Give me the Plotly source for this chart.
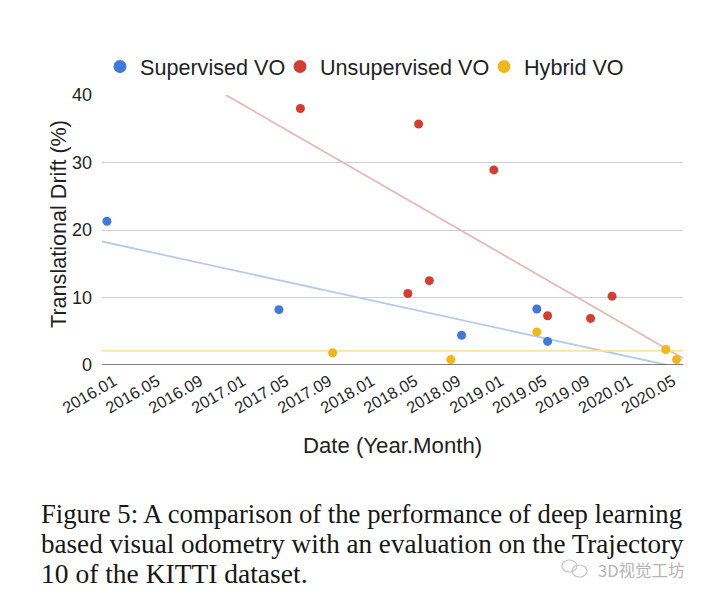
import plotly.graph_objects as go

# x values are months after 2016.01
tick_months = [0, 4, 8, 12, 16, 20, 24, 28, 32, 36, 40, 44, 48, 52]
tick_labels = ["2016.01", "2016.05", "2016.09", "2017.01", "2017.05", "2017.09", "2018.01",
               "2018.05", "2018.09", "2019.01", "2019.05", "2019.09", "2020.01", "2020.05"]

sup_x = [0, 16, 33, 40, 41]
sup_y = [21.3, 8.2, 4.4, 8.3, 3.5]
uns_x = [18, 29, 36, 28, 30, 41, 45, 47]
uns_y = [38.0, 35.7, 28.9, 10.6, 12.5, 7.3, 6.9, 10.2]
hyb_x = [21, 32, 40, 52, 53]
hyb_y = [1.8, 0.8, 4.9, 2.3, 0.8]

sup_trend_x = [-0.46, 52.1]
sup_trend_y = [18.3, 0.0]
uns_trend_x = [11.07, 53.6]
uns_trend_y = [40.0, 1.0]
hyb_trend_x = [-0.46, 53.6]
hyb_trend_y = [2.1, 2.1]

BLUE, RED, YEL = "#4278d8", "#d13f33", "#f0b71c"
INK = "#1f1f1f"

caption = ["Figure 5: A comparison of the performance of deep learning",
           "based visual odometry with an evaluation on the Trajectory",
           "10 of the KITTI dataset."]
caption_sizes = [26.7, 27.1, 27.5]
watermark = "3D视觉工坊"

fig = go.Figure()
for x, y, c in [(sup_trend_x, sup_trend_y, "#b8cbe8"),
                (uns_trend_x, uns_trend_y, "#e8b8b3"),
                (hyb_trend_x, hyb_trend_y, "#f8e3a6")]:
    fig.add_trace(go.Scatter(x=x, y=y, mode="lines", line=dict(color=c, width=1.8),
                             showlegend=False, hoverinfo="skip"))
for x, y, c, n, lg in [(sup_x, sup_y, BLUE, "Supervised VO", "legend"),
                       (uns_x, uns_y, RED, "Unsupervised VO", "legend2"),
                       (hyb_x, hyb_y, YEL, "Hybrid VO", "legend3")]:
    fig.add_trace(go.Scatter(x=x, y=y, mode="markers", marker=dict(color=c, size=9),
                             showlegend=False, cliponaxis=False, name=n))
    fig.add_trace(go.Scatter(x=[None], y=[None], mode="markers", marker=dict(color=c, size=13),
                             name=n, legend=lg))

def legend_at(left_px):
    return dict(x=(left_px - 102) / 581, xanchor="left", y=1.026, yanchor="bottom",
                orientation="h", font=dict(size=21.6), bgcolor="rgba(0,0,0,0)")

fig.update_layout(
    width=703, height=597, margin=dict(l=102, r=20, t=95, b=232),
    paper_bgcolor="white", plot_bgcolor="white",
    font=dict(family="Liberation Sans", color=INK),
    legend=legend_at(100), legend2=legend_at(280), legend3=legend_at(484),
    xaxis=dict(range=[-0.46, 53.6], tickmode="array", tickvals=tick_months, ticktext=tick_labels,
               tickangle=-30, tickfont=dict(size=16.4), showgrid=False, zeroline=False, ticks="",
               ticklabelshift=7, ticklabelstandoff=3,
               title=dict(text="Date (Year.Month)", font=dict(size=22.2), standoff=21),
               automargin=False),
    yaxis=dict(range=[0, 40], tickvals=[0, 10, 20, 30, 40], tickfont=dict(size=18),
               gridcolor="#ccd0d8", gridwidth=1.2, zeroline=False, showline=False, ticks="",
               ticklabelstandoff=9, automargin=False),
    shapes=[dict(type="line", xref="paper", yref="y", x0=0, x1=1, y0=0, y1=0,
                 line=dict(color="#555555", width=1.4)),
            dict(type="circle", xref="paper", yref="paper",
                 x0=(562 - 102) / 581, x1=(577 - 102) / 581,
                 y0=(365 - 572) / 270, y1=(365 - 560) / 270,
                 line=dict(color="#c4c4c4", width=1.2)),
            dict(type="circle", xref="paper", yref="paper",
                 x0=(572 - 102) / 581, x1=(587 - 102) / 581,
                 y0=(365 - 577) / 270, y1=(365 - 565) / 270,
                 line=dict(color="#c4c4c4", width=1.2))],
)
fig.add_annotation(text="Translational Drift (%)", xref="paper", yref="paper", showarrow=False,
                   textangle=-90, x=(58 - 102) / 581, xanchor="center",
                   y=(365 - 224) / 270, yanchor="middle", font=dict(size=21.6))
for line, ypx, sz in zip(caption, [514, 543.5, 573], caption_sizes):
    fig.add_annotation(text=line, xref="paper", yref="paper", showarrow=False, borderpad=0,
                       x=(40 - 102) / 581, xanchor="left",
                       y=(365 - ypx) / 270, yanchor="middle",
                       font=dict(family="Liberation Serif", size=sz, color="#161616"))
fig.add_annotation(text=watermark, xref="paper", yref="paper", showarrow=False, borderpad=0,
                   x=(686 - 102) / 581, xanchor="right", y=(365 - 570) / 270, yanchor="middle",
                   font=dict(family="Noto Sans CJK SC", size=16.5, color="#b5b5b5"))

fig.write_html("out.html", config={"displayModeBar": False},
               post_script="document.body.style.margin='0';")
